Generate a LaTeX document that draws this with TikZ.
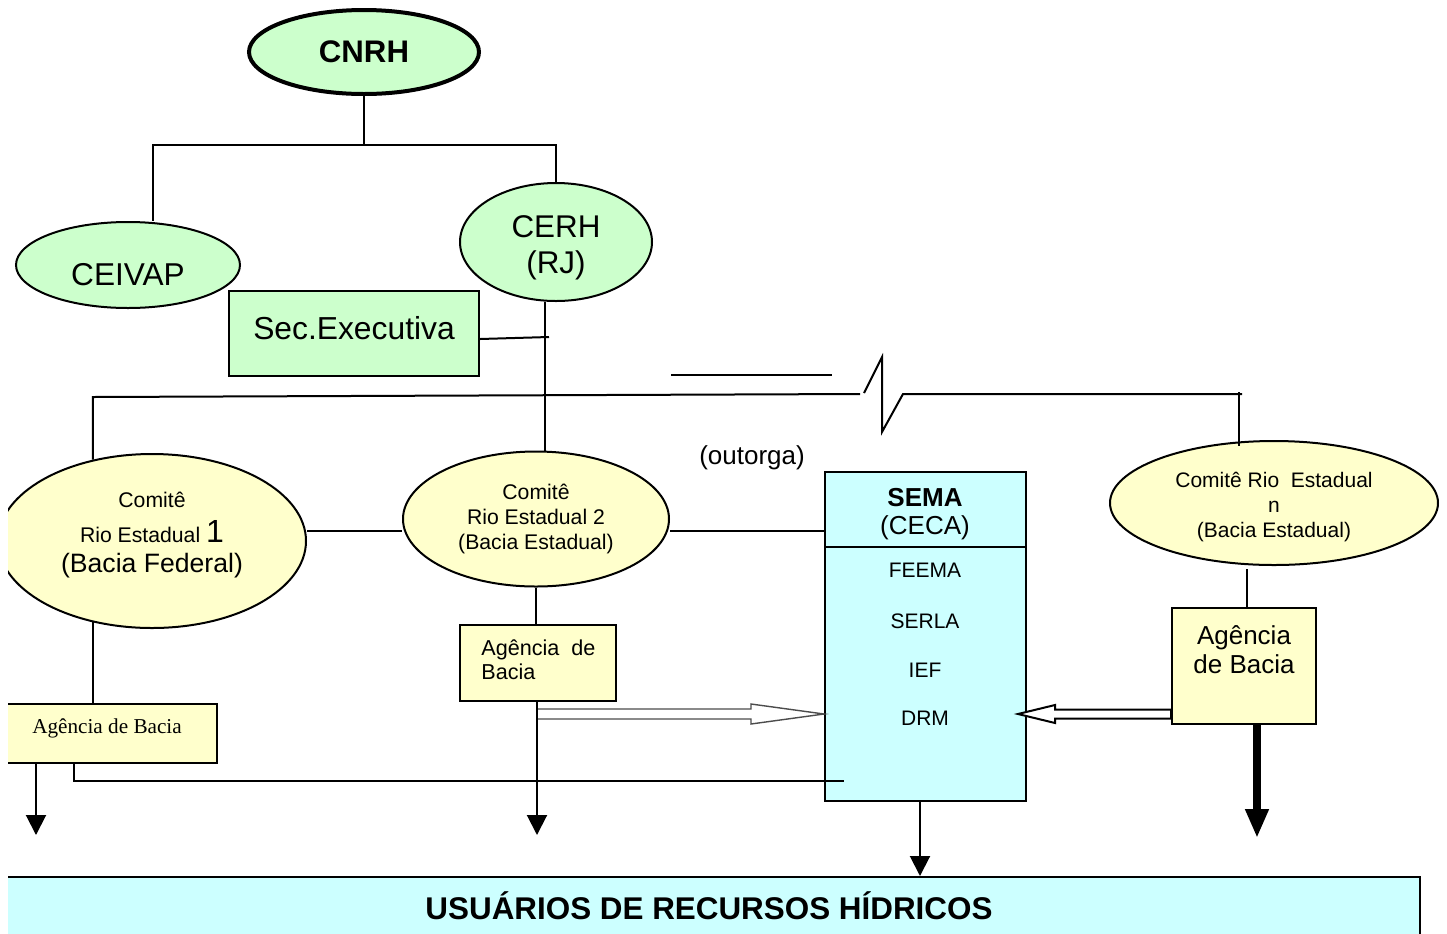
\documentclass[tikz,border=0pt]{standalone}
\usepackage{fontspec}
\setmainfont{Liberation Sans}
\newfontfamily\timesfont{Liberation Serif}
\usetikzlibrary{shapes.geometric,arrows.meta,calc}
\definecolor{lgreen}{RGB}{204,255,204}
\definecolor{lyellow}{RGB}{255,255,204}
\definecolor{lcyan}{RGB}{204,255,255}
\tikzset{
  ln/.style={line width=1pt},
  gell/.style={ellipse,draw,fill=lgreen,line width=1pt,inner sep=0pt},
  yell/.style={ellipse,draw,fill=lyellow,line width=1pt,inner sep=0pt},
  ybox/.style={rectangle,draw,fill=lyellow,line width=1pt,inner sep=0pt},
  cbox/.style={rectangle,draw,fill=lcyan,line width=1pt,inner sep=0pt},
  lbl/.style={inner sep=0pt,align=center},
  hollowgrey/.style={draw=black!70,fill=white,line width=0.7pt},
  hollowblack/.style={draw=black,fill=white,line width=1pt},
  tipped/.style={-{Triangle[length=10pt,width=10pt]}},
}
\begin{document}
\begin{tikzpicture}[x=0.5pt,y=-0.5pt]
\useasboundingbox (0,0) rectangle (1447,933);
\clip (8,0) rectangle (1447,933);

% ---- nodes ----
\node[gell,line width=2pt,minimum width=115pt,minimum height=42pt,font=\fontsize{15.6}{18}\selectfont\bfseries] (cnrh) at (364,52) {CNRH};
\node[gell,minimum width=112pt,minimum height=43pt,label={[lbl,yshift=-5pt,font=\fontsize{15.8}{19}\selectfont]center:CEIVAP}] (ceivap) at (128,265) {};
\node[gell,minimum width=96pt,minimum height=59pt,label={[lbl,yshift=-3pt,font=\fontsize{15.7}{18}\selectfont]center:{CERH\\(RJ)}}] (cerh) at (556,242) {};
\node[rectangle,draw,fill=lgreen,line width=1pt,inner sep=0pt,minimum width=125pt,minimum height=42.5pt,label={[lbl,yshift=2.5pt,font=\fontsize{15.9}{19}\selectfont]center:Sec.Executiva}] (sec) at (354,333.5) {};

\node[yell,minimum width=154pt,minimum height=87pt] (c1) at (152,541) {};
\node[lbl,font=\fontsize{10.6}{12.7}\selectfont] (c1t) at (152,535) {Comitê\\[5pt]Rio Estadual {\fontsize{16}{19}\selectfont 1}\\[2.3pt]{\fontsize{13.3}{16}\selectfont (Bacia Federal)}};

\node[yell,minimum width=133pt,minimum height=67.5pt,align=center,font=\fontsize{10.6}{12.3}\selectfont] (c2) at (536,519) {Comitê\\Rio Estadual 2\\(Bacia Estadual)};

\node[yell,minimum width=164pt,minimum height=62pt,label={[lbl,yshift=-2pt,font=\fontsize{10.5}{12.5}\selectfont]center:{Comitê Rio\ \ Estadual\\n\\(Bacia Estadual)}}] (cn) at (1274,503) {};

\node[cbox,minimum width=100.5pt,minimum height=164.5pt] (sema) at (925.5,636.5) {};
\node[font=\fontsize{13}{15}\selectfont\bfseries] (semat) at (925,498) {SEMA};
\node[font=\fontsize{13}{15}\selectfont] (ceca) at (925,528) {(CECA)};
\node[font=\fontsize{10.5}{12}\selectfont] (feema) at (925,570) {FEEMA};
\node[font=\fontsize{10.5}{12}\selectfont] (serla) at (925,621) {SERLA};
\node[font=\fontsize{10.5}{12}\selectfont] (ief) at (925,670) {IEF};
\node[font=\fontsize{10.5}{12}\selectfont] (drm) at (925,718) {DRM};

\node[ybox,minimum width=78pt,minimum height=38pt] (ag2) at (538,663) {};
\node[lbl,align=left,anchor=west,font=\fontsize{10.8}{12}\selectfont] (ag2t) at (481,660) {Agência\ \ de\\Bacia};

\node[ybox,minimum width=108.5pt,minimum height=29.5pt] (ag1) at (108.5,733.5) {};
\node[font=\timesfont\fontsize{10.6}{12}\selectfont] (ag1t) at (107,728) {Agência de Bacia};

\node[ybox,minimum width=72pt,minimum height=58pt] (agn) at (1244,666) {};
\node[lbl,font=\fontsize{13}{14.5}\selectfont] (agnt) at (1244,650) {Agência\\de Bacia};

\node[cbox,minimum width=710pt,minimum height=41.5pt] (bar) at (710,918.5) {};
\node[font=\fontsize{15.7}{18}\selectfont\bfseries] (usr) at (709,906) {USUÁRIOS DE RECURSOS HÍDRICOS};

\node[font=\fontsize{13}{15}\selectfont] (out) at (752,458) {(outorga)};

% ---- divider in SEMA ----
\draw[ln] ($(sema.north west)+(0,76)$) -- ($(sema.north east)+(0,76)$);

% ---- connectors ----
\coordinate (j0) at (364,145);
\coordinate (jl) at (153,145);
\coordinate (jr) at (556,145);
\draw[ln] (cnrh.south) -- (j0);
\draw[ln] (jl |- ceivap.north) -- (jl) -- (jr) -- (cerh.north);

\coordinate (sj) at (549,337);
\draw[ln] ($(sec.east)+(0,5.5)$) -- (sj);
\draw[ln] (cerh.260) -- (cerh.260 |- c2.north);

\coordinate (hl) at (94,397);
\coordinate (hb) at (860,394);
\draw[ln] (c1.126) -- (c1.126 |- hl) -- (hb);
\coordinate (z1) at (864,393);
\coordinate (z2) at (882,357);
\coordinate (z3) at (882,432);
\coordinate (z4) at (903,394);
\coordinate (z5) at (1242,394);
\draw[ln] (z1) -- (z2) -- (z3) -- (z4) -- (z5);
\coordinate (vr) at (1239,392);
\draw[ln] (vr) -- ($(vr |- cn.north)+(0,6)$);

\coordinate (s1) at (671,375);
\coordinate (s2) at (832,375);
\draw[ln] (s1) -- (s2);

\coordinate (row) at (0,531);
\draw[ln] (c1.east |- row) -- (c2.west |- row);
\draw[ln] (c2.east |- row) -- (sema.west |- row);

\draw[ln] (c2.south) -- (c2.south |- ag2.north);
\draw[ln] (c1.234) -- (c1.234 |- ag1.north);
\draw[ln] ($(agn.north)+(3,0)$) -- ($(agn.north)+(3,-38)$);

% hollow arrows
\coordinate (h2s) at ($(ag2.south)+(-1,12)$);
\coordinate (h2e) at (sema.west |- h2s);
\draw[hollowgrey] ($(h2s)+(0,-5)$) -- ($(h2e)+(-73,-5)$) -- ($(h2e)+(-73,-10)$) -- (h2e) -- ($(h2e)+(-73,10)$) -- ($(h2e)+(-73,5)$) -- ($(h2s)+(0,5)$) -- cycle;

\coordinate (h3s) at (agn.west |- h2s);
\coordinate (h3e) at ($(sema.east |- h2s)+(-9,0)$);
\draw[hollowblack] ($(h3s)+(0,-4.5)$) -- ($(h3e)+(37,-4.5)$) -- ($(h3e)+(37,-9)$) -- (h3e) -- ($(h3e)+(37,9)$) -- ($(h3e)+(37,4.5)$) -- ($(h3s)+(0,4.5)$) -- cycle;

% down arrows
\coordinate (a2s) at ($(ag2.south)+(-1,0)$);
\coordinate (a2e) at (537,835);
\draw[ln,tipped] (a2s) -- (a2s |- a2e);

\coordinate (a1s) at ($(ag1.south west)+(37,0)$);
\draw[ln,tipped] (a1s) -- (a1s |- a2e);

\draw[ln] ($(ag1.south west)+(75,0)$) |- ($(sema.west)+(20,144.5)$);

\coordinate (ss) at ($(sema.south)+(-5.5,0)$);
\draw[ln,tipped] (ss) -- (ss |- bar.north);

\coordinate (as) at ($(agn.south)+(13,0)$);
\coordinate (ae) at (1257,838);
\draw[line width=4pt,-{Triangle[length=14.5pt,width=11pt]}] (as) -- (as |- ae);
\end{tikzpicture}
\end{document}
